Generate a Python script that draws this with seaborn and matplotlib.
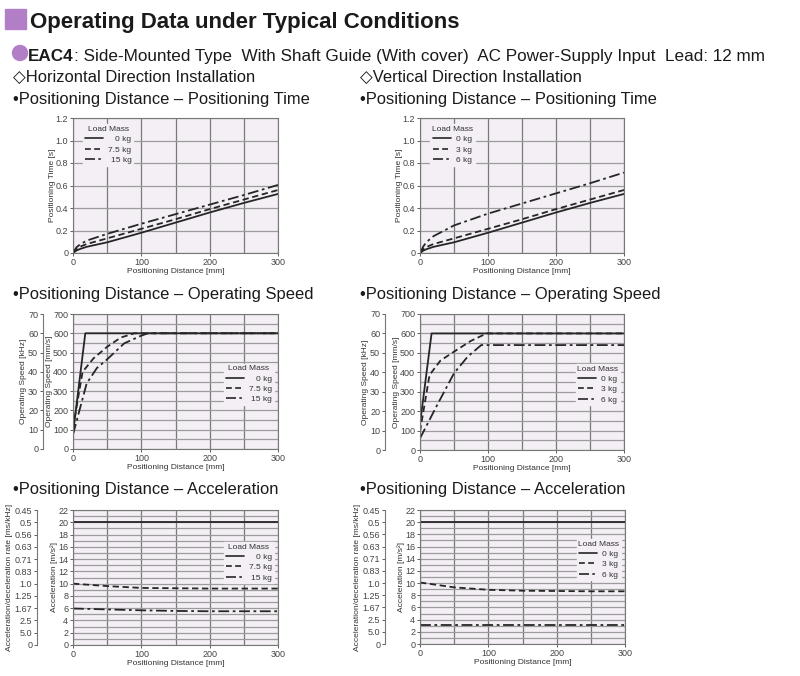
import numpy as np
import pandas as pd
import matplotlib
matplotlib.use("Agg")
import matplotlib.pyplot as plt
from matplotlib.lines import Line2D
from matplotlib.patches import Rectangle, Ellipse
import seaborn as sns

# ---- data ----
dist_t = [0, 5, 10, 20, 50, 100, 150, 200, 250, 300]
h_time_0 = [0, 0.022, 0.035, 0.055, 0.095, 0.18, 0.27, 0.36, 0.445, 0.525]
h_time_75 = [0, 0.035, 0.055, 0.08, 0.13, 0.215, 0.30, 0.39, 0.475, 0.56]
h_time_15 = [0, 0.05, 0.075, 0.11, 0.17, 0.26, 0.345, 0.43, 0.515, 0.605]
v_time_0 = [0, 0.022, 0.035, 0.055, 0.095, 0.18, 0.27, 0.36, 0.445, 0.525]
v_time_3 = [0, 0.035, 0.055, 0.08, 0.13, 0.215, 0.30, 0.39, 0.475, 0.56]
v_time_6 = [0, 0.06, 0.10, 0.15, 0.245, 0.35, 0.44, 0.53, 0.62, 0.715]

h_spd_0_x = [0, 18, 300]
h_spd_0 = [80, 600, 600]
h_spd_75_x = [0, 14, 30, 50, 70, 90, 300]
h_spd_75 = [110, 400, 470, 530, 578, 600, 600]
h_spd_15_x = [0, 20, 35, 50, 75, 100, 110, 300]
h_spd_15 = [75, 340, 420, 465, 548, 588, 600, 600]
v_spd_0_x = [0, 17, 300]
v_spd_0 = [135, 600, 600]
v_spd_3_x = [0, 14, 30, 50, 75, 98, 300]
v_spd_3 = [95, 386, 460, 506, 562, 600, 600]
v_spd_6_x = [0, 25, 50, 70, 90, 300]
v_spd_6 = [60, 230, 395, 480, 540, 540]

dist_a = [0, 50, 100, 150, 200, 250, 300]
h_acc_0 = [20, 20, 20, 20, 20, 20, 20]
h_acc_75 = [10.0, 9.6, 9.3, 9.25, 9.2, 9.2, 9.2]
h_acc_15 = [5.95, 5.8, 5.65, 5.55, 5.5, 5.5, 5.5]
v_acc_0 = [20, 20, 20, 20, 20, 20, 20]
v_acc_3 = [10.1, 9.3, 8.9, 8.75, 8.7, 8.65, 8.65]
v_acc_6 = [3.1, 3.1, 3.1, 3.1, 3.1, 3.1, 3.1]

rate_ticks = [0, 2, 4, 6, 8, 10, 12, 14, 16, 18, 20, 22]
rate_labels = ["0", "5.0", "2.5", "1.67", "1.25", "1.0", "0.83", "0.71", "0.63", "0.56", "0.5", "0.45"]
h_masses = ["0 kg", "7.5 kg", "15 kg"]
v_masses = ["0 kg", "3 kg", "6 kg"]

# ---- style ----
sns.set_theme(style="white")
plt.rcParams["font.family"] = ["Liberation Sans", "DejaVu Sans"]
NARROW = ["Liberation Sans Narrow", "Liberation Sans", "DejaVu Sans"]
BG = "#f3eff5"
XGRID = "#7a7a7a"
YGRID = "#9c9c9c"
INK = "#262626"
PURPLE = "#b27fc7"
styles = ["-", (0, (3.5, 2)), (0, (6, 2, 1.5, 2))]

W, H = 800, 676
fig = plt.figure(figsize=(8, 6.76), dpi=100)


def box(x0, y0, x1, y1):
    return [x0 / W, 1 - y1 / H, (x1 - x0) / W, (y1 - y0) / H]


def frame(ax, ymax, ymajor, yminor, ylabel):
    ax.set_facecolor(BG)
    ax.set_xlim(0, 300)
    ax.set_ylim(0, ymax)
    ax.set_xticks([0, 100, 200, 300])
    ax.set_xticks([50, 150, 250], minor=True)
    ax.set_yticks(ymajor)
    ax.set_yticks(yminor, minor=True)
    ax.grid(True, axis="x", which="both", color=XGRID, lw=0.9)
    ax.grid(True, axis="y", which="both", color=YGRID, lw=0.9)
    ax.set_axisbelow(True)
    for s in ax.spines.values():
        s.set_color("#777777")
        s.set_linewidth(0.8)
    ax.tick_params(which="major", length=2.5, width=0.6, pad=1, labelsize=6.5, colors="#444444")
    ax.tick_params(which="minor", length=0)
    ax.tick_params(axis="y", left=True)
    ax.tick_params(axis="x", bottom=True)
    for t in ax.get_xticklabels() + ax.get_yticklabels():
        t.set_family(NARROW)
    ax.set_xlabel("Positioning Distance [mm]", fontsize=6, family=NARROW, color="#333333", labelpad=1)
    ax.set_ylabel(ylabel, fontsize=6, family=NARROW, color="#333333", labelpad=0)


def series(ax, xs, ys):
    for x, y, ls in zip(xs, ys, styles):
        df = pd.DataFrame({"x": x, "y": y})
        sns.lineplot(data=df, x="x", y="y", ax=ax, color=INK, lw=1.3, linestyle=ls, sort=False)


def legend(ax, labels, loc, anchor):
    handles = [Line2D([], [], color=INK, lw=1.2, linestyle=ls) for ls in styles]
    leg = ax.legend(handles, labels, title="Load Mass", loc=loc, bbox_to_anchor=anchor,
                    fontsize=6, title_fontsize=6, frameon=True, facecolor=BG, edgecolor=BG,
                    framealpha=1, handlelength=2.2, handletextpad=0.6, labelspacing=0.3,
                    borderpad=0.2, fancybox=False)
    for t in leg.get_texts() + [leg.get_title()]:
        t.set_family(NARROW)
        t.set_color("#333333")
    return leg


def secondary(ax, loc, functions, ticks, labels, ylabel):
    sec = ax.secondary_yaxis(loc, functions=functions)
    sec.set_yticks(ticks)
    if labels is not None:
        sec.set_yticklabels(labels)
    sec.spines["left"].set_color("#777777")
    sec.spines["left"].set_linewidth(0.8)
    sec.tick_params(length=2.5, width=0.6, pad=1, labelsize=6.5, colors="#444444")
    for t in sec.get_yticklabels():
        t.set_family(NARROW)
    sec.set_ylabel(ylabel, fontsize=6, family=NARROW, color="#333333", labelpad=1)
    return sec


time_ticks = [0, 0.2, 0.4, 0.6, 0.8, 1.0, 1.2]
time_labels = ["0", "0.2", "0.4", "0.6", "0.8", "1.0", "1.2"]
axes = {}
# positioning time
ax = fig.add_axes(box(73, 118, 278, 253))
series(ax, [dist_t] * 3, [h_time_0, h_time_75, h_time_15])
frame(ax, 1.2, time_ticks, [], "Positioning Time [s]")
ax.set_yticklabels(time_labels)
legend(ax, h_masses, "upper left", (0.03, 0.985))
axes["ht"] = ax

ax = fig.add_axes(box(420, 118, 624, 253))
series(ax, [dist_t] * 3, [v_time_0, v_time_3, v_time_6])
frame(ax, 1.2, time_ticks, [], "Positioning Time [s]")
ax.set_yticklabels(time_labels)
legend(ax, v_masses, "upper left", (0.03, 0.985))
axes["vt"] = ax

# operating speed
ax = fig.add_axes(box(73, 314, 278, 449))
series(ax, [h_spd_0_x, h_spd_75_x, h_spd_15_x], [h_spd_0, h_spd_75, h_spd_15])
frame(ax, 700, list(range(0, 701, 100)), list(range(50, 700, 100)), "Operating Speed [mm/s]")
legend(ax, h_masses, "center right", (1.0, 0.48))
secondary(ax, (43 - 73) / 205, (lambda v: v / 10, lambda v: v * 10), list(range(0, 71, 10)), None,
          "Operating Speed [kHz]")
axes["hs"] = ax

ax = fig.add_axes(box(420, 314, 624, 450))
series(ax, [v_spd_0_x, v_spd_3_x, v_spd_6_x], [v_spd_0, v_spd_3, v_spd_6])
frame(ax, 700, list(range(0, 701, 100)), list(range(50, 700, 100)), "Operating Speed [mm/s]")
legend(ax, v_masses, "center right", (1.0, 0.48))
secondary(ax, (385 - 420) / 204, (lambda v: v / 10, lambda v: v * 10), list(range(0, 71, 10)), None,
          "Operating Speed [kHz]")
axes["vs"] = ax

# acceleration
ax = fig.add_axes(box(73, 510, 278, 645))
series(ax, [dist_a] * 3, [h_acc_0, h_acc_75, h_acc_15])
frame(ax, 22, list(range(0, 23, 2)), list(range(1, 22, 2)), "Acceleration [m/s\u00b2]")
legend(ax, h_masses, "center right", (1.0, 0.61))
secondary(ax, (37 - 73) / 205, (lambda v: v, lambda v: v), rate_ticks, rate_labels,
          "Acceleration/deceleration rate [ms/kHz]")
axes["ha"] = ax

ax = fig.add_axes(box(420, 510, 625, 644))
series(ax, [dist_a] * 3, [v_acc_0, v_acc_3, v_acc_6])
frame(ax, 22, list(range(0, 23, 2)), list(range(1, 22, 2)), "Acceleration [m/s\u00b2]")
legend(ax, v_masses, "center right", (1.0, 0.63))
secondary(ax, (385 - 420) / 205, (lambda v: v, lambda v: v), rate_ticks, rate_labels,
          "Acceleration/deceleration rate [ms/kHz]")
axes["va"] = ax

# right-align the legend labels like the catalogue
fig.canvas.draw()
for ax in axes.values():
    leg = ax.get_legend()
    texts = leg.get_texts()
    wmax = max(t.get_window_extent().width for t in texts)
    for t in texts:
        w = t.get_window_extent().width
        t.set_position((wmax - w, 0))

# ---- headings ----
fig.patches.append(Rectangle((5 / W, 1 - 29 / H), 21 / W, 20 / H, transform=fig.transFigure,
                             color=PURPLE, zorder=5))
fig.text(30 / W, 1 - 28 / H, "Operating Data under Typical Conditions", fontsize=16,
         fontweight="bold", color="#1a1a1a", va="baseline")
fig.patches.append(Ellipse((20 / W, 1 - 53 / H), 15 / W, 15 / H, transform=fig.transFigure,
                           color=PURPLE, zorder=5))
t1 = fig.text(28 / W, 1 - 61 / H, "EAC4", fontsize=12.3, fontweight="bold", color="#1a1a1a",
              va="baseline")
fig.canvas.draw()
bb = t1.get_window_extent()
fig.text(bb.x1 / W, 1 - 61 / H,
         ": Side-Mounted Type  With Shaft Guide (With cover)  AC Power-Supply Input  Lead: 12 mm",
         fontsize=12.3, color="#1a1a1a", va="baseline")

fig.text(13 / W, 1 - 82 / H, "\u25c7Horizontal Direction Installation", fontsize=11.9, color="#1a1a1a",
         va="baseline")
fig.text(360 / W, 1 - 82 / H, "\u25c7Vertical Direction Installation", fontsize=11.9, color="#1a1a1a",
         va="baseline")
for y, name in [(104, "Positioning Time"), (299, "Operating Speed"), (494, "Acceleration")]:
    for x in (13, 360):
        fig.text(x / W, 1 - y / H, "\u2022Positioning Distance \u2013 " + name, fontsize=11.9,
                 color="#1a1a1a", va="baseline")

fig.savefig("out.png", dpi=100)
